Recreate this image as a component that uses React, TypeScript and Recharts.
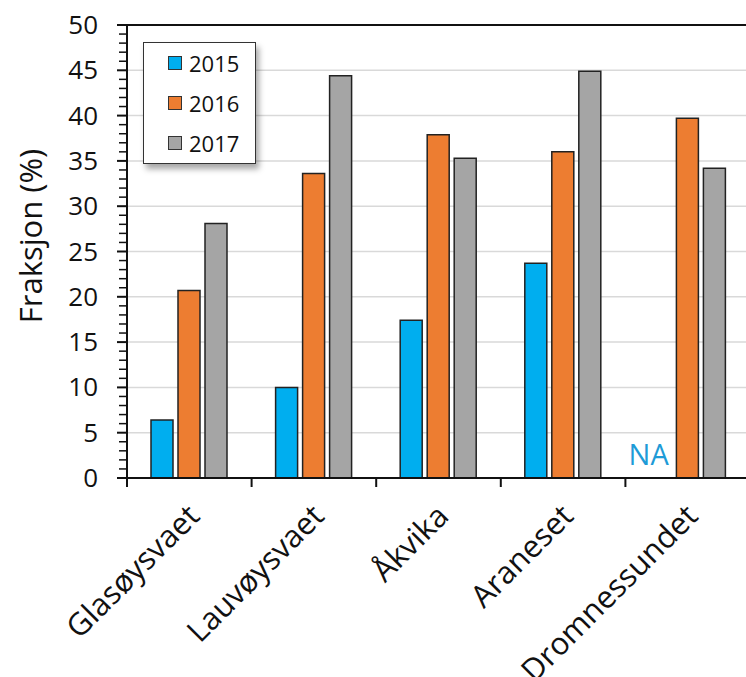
import React from "react"
import {
  BarChart,
  Bar,
  XAxis,
  YAxis,
  CartesianGrid,
  Legend,
  ReferenceLine,
  ReferenceDot,
} from "recharts"

const sites = ["Glasøysvaet", "Lauvøysvaet", "Åkvika", "Araneset", "Dromnessundet"]
const y2015 = [6.4, 10.0, 17.4, 23.7, null]
const y2016 = [20.7, 33.6, 37.9, 36.0, 39.7]
const y2017 = [28.1, 44.4, 35.3, 44.9, 34.2]

const majorTicks = [0, 5, 10, 15, 20, 25, 30, 35, 40, 45, 50]
const allTicks = [
  0, 1, 2, 3, 4, 5, 6, 7, 8, 9, 10, 11, 12, 13, 14, 15, 16, 17, 18, 19, 20, 21, 22, 23, 24, 25,
  26, 27, 28, 29, 30, 31, 32, 33, 34, 35, 36, 37, 38, 39, 40, 41, 42, 43, 44, 45, 46, 47, 48, 49, 50,
]

const series = [
  { key: "y2015", name: "2015", color: "#00aeef" },
  { key: "y2016", name: "2016", color: "#ed7d31" },
  { key: "y2017", name: "2017", color: "#a5a5a5" },
]

const data = sites.map((site, i) => ({
  site,
  y2015: y2015[i],
  y2016: y2016[i],
  y2017: y2017[i],
}))

const font = "'Open Sans', sans-serif"
const ink = "#111"

// category labels at 45 degrees, plus tick marks on the category boundaries
const SiteTick = (props: any) => {
  const { x, y, payload, index, width, visibleTicksCount } = props
  const half = payload.offset ?? width / visibleTicksCount / 2
  const ax = x + 12
  const ay = y + 40
  return (
    <g>
      {index === 0 && (
        <line x1={x - half} x2={x - half} y1={y} y2={y + 9} stroke={ink} strokeWidth={2} />
      )}
      <line x1={x + half} x2={x + half} y1={y} y2={y + 9} stroke={ink} strokeWidth={2} />
      <text
        x={ax}
        y={ay}
        textAnchor="end"
        transform={`rotate(-45 ${ax} ${ay})`}
        fontSize={31}
        fontFamily={font}
        fill={ink}
      >
        {payload.value}
      </text>
    </g>
  )
}

// every unit gets a minor tick, every 5 a longer tick with a label
const ValueTick = (props: any) => {
  const { x, y, payload } = props
  const major = majorTicks.includes(payload.value)
  return (
    <g>
      <line
        x1={x - (major ? 10 : 8)}
        x2={x}
        y1={y}
        y2={y}
        stroke={ink}
        strokeWidth={major ? 2 : 1.5}
      />
      {major && (
        <text
          x={x - 29}
          y={y}
          dy={9}
          textAnchor="end"
          fontSize={26}
          fontFamily={font}
          fill={ink}
        >
          {payload.value}
        </text>
      )}
    </g>
  )
}

const LegendBox = () => (
  <div
    style={{
      width: 113,
      height: 122,
      border: "1px solid #333",
      background: "#fff",
      boxShadow: "3px 5px 6px rgba(0,0,0,0.35)",
      boxSizing: "border-box",
      paddingTop: 0,
      fontFamily: font,
      fontSize: 22,
      color: ink,
    }}
  >
    {series.map((s) => (
      <div key={s.key} style={{ display: "flex", alignItems: "center", height: 40, paddingLeft: 24 }}>
        <span
          style={{
            width: 14,
            height: 14,
            background: s.color,
            border: "1px solid #333",
            boxSizing: "border-box",
            marginRight: 7,
          }}
        />
        {s.name}
      </div>
    ))}
  </div>
)

export default function App() {
  return (
    <div
      style={{
        position: "absolute",
        left: 0,
        top: 0,
        width: 746,
        height: 677,
        overflow: "hidden",
        background: "#fff",
      }}
    >
      <BarChart
        width={750}
        height={677}
        data={data}
        margin={{ top: 25, right: 0, bottom: 0, left: 0 }}
        barGap={5}
        barSize={22}
      >
        <CartesianGrid
          vertical={false}
          horizontalValues={majorTicks}
          stroke="#d9d9d9"
          strokeWidth={1.5}
        />
        <XAxis
          dataKey="site"
          height={199}
          interval={0}
          tickLine={false}
          tickSize={0}
          tickMargin={0}
          axisLine={{ stroke: ink, strokeWidth: 2 }}
          tick={<SiteTick />}
        />
        <YAxis
          domain={[0, 50]}
          ticks={allTicks}
          interval={0}
          width={127}
          tickSize={0}
          tickMargin={0}
          tickLine={false}
          axisLine={{ stroke: ink, strokeWidth: 2 }}
          tick={<ValueTick />}
          label={{
            content: () => (
              <text
                x={42}
                y={236}
                transform="rotate(-90 42 236)"
                textAnchor="middle"
                fontSize={31}
                fontFamily={font}
                fill={ink}
              >
                Fraksjon (%)
              </text>
            ),
          }}
        />
        <ReferenceLine y={50} stroke={ink} strokeWidth={2} />
        <Legend
          layout="vertical"
          align="center"
          verticalAlign="middle"
          content={() => <LegendBox />}
          wrapperStyle={{ position: "absolute", left: 143, top: 42, width: 114 }}
        />
        {series.map((s) => (
          <Bar
            key={s.key}
            dataKey={s.key}
            name={s.name}
            fill={s.color}
            stroke="#222"
            strokeWidth={1.5}
            isAnimationActive={false}
          />
        ))}
        <ReferenceDot
          x="Dromnessundet"
          y={0}
          r={0}
          shape={(p: any) => (
            <text
              x={p.cx - 39}
              y={p.cy - 13}
              textAnchor="middle"
              fontSize={29}
              fontFamily={font}
              fill="#1e9bd7"
            >
              NA
            </text>
          )}
        />
      </BarChart>
    </div>
  )
}
